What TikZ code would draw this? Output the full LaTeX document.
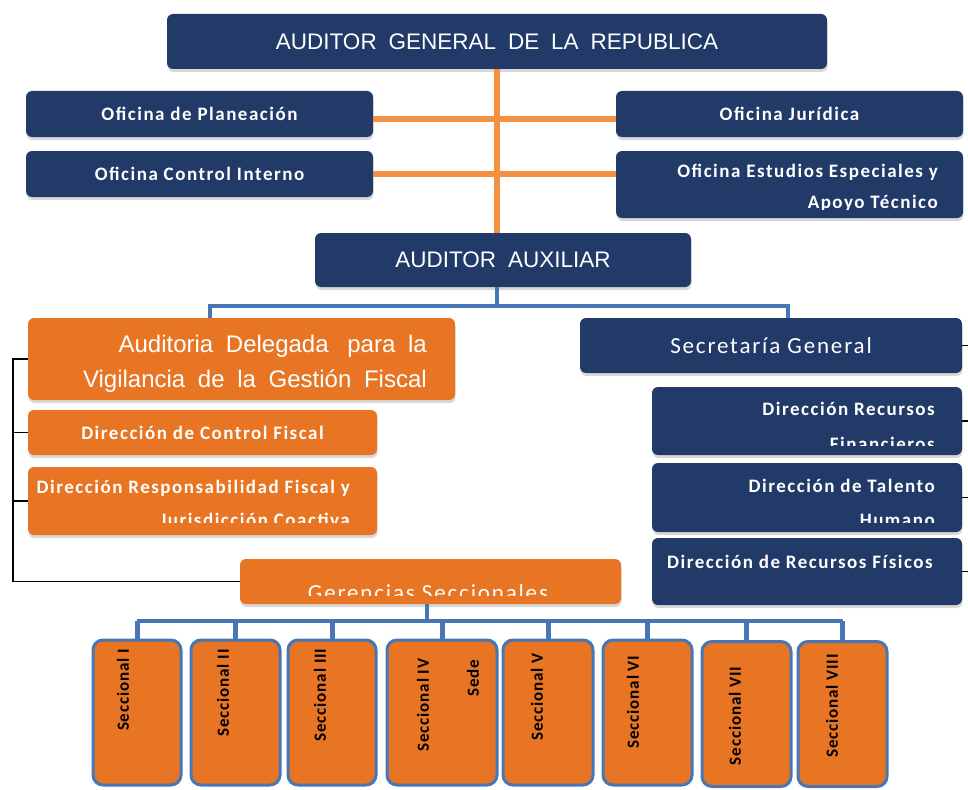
\documentclass[tikz,border=0pt]{standalone}
\usepackage{fontspec}
\setmainfont{Carlito}
\newfontfamily\titlefont{Liberation Sans}
\newfontfamily\adfont[WordSpace=1.9]{Liberation Sans}
\newfontfamily\boxfont[LetterSpace=8]{Carlito}
\newfontfamily\secfont[LetterSpace=5]{Carlito}
\usetikzlibrary{shadows,calc}
\definecolor{navy}{RGB}{33,58,104}
\definecolor{orng}{RGB}{232,117,35}
\definecolor{lorng}{RGB}{242,145,66}
\definecolor{busblue}{RGB}{72,118,180}
\tikzset{
  box/.style={rounded corners=6pt, inner sep=0pt,
    drop shadow={opacity=0.3,shadow xshift=0.5pt,shadow yshift=-3pt}},
  navybox/.style={box, fill=navy, text=white},
  orbox/.style={box, fill=orng, text=white},
  secbox/.style={rounded corners=10pt, fill=orng, draw=busblue, line width=3pt, inner sep=0pt,
    minimum height=145pt},
  titletxt/.style={font=\titlefont\fontsize{22.5}{27}\selectfont},
  smalltxt/.style={font=\boxfont\bfseries\fontsize{19}{22}\selectfont},
  midtxt/.style={font=\boxfont\fontsize{23}{27}\selectfont},
  adtxt/.style={font=\adfont\fontsize{24}{28}\selectfont},
  sectxt/.style={rotate=90, inner sep=0pt, text=black, font=\secfont\bfseries\fontsize{17}{20}\selectfont},
  wtxt/.style={inner sep=0pt, text=white},
  orline/.style={draw=lorng, line width=6pt},
  bus/.style={draw=busblue, line width=4pt},
  drop/.style={draw=busblue, line width=5pt},
  brk/.style={draw=black, line width=1.8pt},
}
\begin{document}
\begin{tikzpicture}[x=1pt,y=-1pt]
\useasboundingbox[fill=white] (0,0) rectangle (968,789);

% ---- helper coordinates
\coordinate (vx) at (497,0);
\coordinate (brx) at (13,0);
\coordinate (jL) at (210,306);
\coordinate (jR) at (788,306);
\coordinate (gbus) at (427,621);
\coordinate (stub) at (968,0);

% ---- boxes
\node[navybox, minimum width=660pt, minimum height=55pt, titletxt] (agr) at (497,41.5) {AUDITOR GENERAL DE LA REPUBLICA};

\node[navybox, minimum width=347pt, minimum height=46pt, smalltxt] (plan) at (199.5,114) {Oficina de Planeación};
\node[navybox, minimum width=347pt, minimum height=46pt, smalltxt] (ci) at (199.5,174) {Oficina Control Interno};
\node[navybox, minimum width=347pt, minimum height=46pt, smalltxt] (jur) at (789.5,114) {Oficina Jurídica};
\node[navybox, minimum width=347pt, minimum height=67pt] (est) at (789.5,184.5) {};

\node[navybox, minimum width=376pt, minimum height=54pt, titletxt] (aa) at (503,260) {AUDITOR AUXILIAR};

\node[orbox, minimum width=427pt, minimum height=82pt] (ad) at (241.5,359) {};
\node[navybox, minimum width=382pt, minimum height=55pt, midtxt] (sg) at (771,345.5) {Secretaría General};

\node[orbox, minimum width=349pt, minimum height=45pt, smalltxt] (dcf) at (202.5,432.5) {Dirección de Control Fiscal};
\node[orbox, minimum width=349pt, minimum height=68pt] (dr) at (202.5,501) {};

\node[navybox, minimum width=310pt, minimum height=68pt] (fin) at (807,421) {};
\node[navybox, minimum width=310pt, minimum height=69pt] (tal) at (807,497.5) {};
\node[navybox, minimum width=310pt, minimum height=67pt] (fis) at (807,571.5) {};

\node[orbox, minimum width=381pt, minimum height=45pt] (ger) at (430.5,581.5) {};

% ---- texts inside boxes
\node[wtxt, smalltxt, anchor=base east] (estA) at (938,177) {Oficina Estudios Especiales y};
\begin{scope}
  \clip (616,185) rectangle (963,209);
  \node[wtxt, smalltxt, anchor=base east] (estB) at (938,208) {Apoyo Técnico};
\end{scope}

\node[wtxt, adtxt, anchor=base east] (adA) at (427,352) {Auditoria Delegada\hspace{6pt} para la};
\node[wtxt, adtxt, anchor=base east] (adB) at (427,387) {Vigilancia de la Gestión Fiscal};

\node[wtxt, smalltxt, anchor=base east] (drA) at (350,493) {Dirección Responsabilidad Fiscal y};
\begin{scope}
  \clip (28,500) rectangle (377,522);
  \node[wtxt, smalltxt, anchor=base east] (drB) at (350,526) {Jurisdicción Coactiva};
\end{scope}

\node[wtxt, smalltxt, anchor=base east] (finA) at (935,415) {Dirección Recursos};
\begin{scope}
  \clip (652,425) rectangle (962,445);
  \node[wtxt, smalltxt, anchor=base east] (finB) at (935,450) {Financieros};
\end{scope}

\node[wtxt, smalltxt, anchor=base east] (talA) at (935,492) {Dirección de Talento};
\begin{scope}
  \clip (652,500) rectangle (962,522);
  \node[wtxt, smalltxt, anchor=base east] (talB) at (935,526) {Humano};
\end{scope}

\node[wtxt, smalltxt, anchor=base east] (fisA) at (933,568) {Dirección de Recursos Físicos};

\begin{scope}
  \clip (240,565) rectangle (621,595);
  \node[wtxt, midtxt, anchor=base] (gerT) at (428,600) {Gerencias Seccionales};
\end{scope}

% ---- seccionales
\node[secbox, minimum width=88pt] (s1) at (137,712.5) {};
\node[secbox, minimum width=89pt] (s2) at (235.5,712.5) {};
\node[secbox, minimum width=88pt] (s3) at (332,712.5) {};
\node[secbox, minimum width=110pt] (s4) at (442,712.5) {};
\node[secbox, minimum width=90pt] (s5) at (548,712.5) {};
\node[secbox, minimum width=89pt] (s6) at (647.5,712.5) {};
\node[secbox, minimum width=89pt] (s7) at (746.5,714) {};
\node[secbox, minimum width=89pt] (s8) at (842.5,714) {};

\node[sectxt] (t1) at (123,690) {Seccional I};
\node[sectxt] (t2) at (223,693) {Seccional II};
\node[sectxt] (t3) at (320,695) {Seccional III};
\node[sectxt] (t4) at (423,705) {Seccional IV};
\node[sectxt] (t4b) at (473,678) {Sede};
\node[sectxt] (t5) at (537,697) {Seccional V};
\node[sectxt] (t6) at (633,702) {Seccional VI};
\node[sectxt] (t7) at (735,716) {Seccional VII};
\node[sectxt] (t8) at (832,706) {Seccional VIII};

% ---- connectors
\draw[orline] (agr.south -| vx) -- (aa.north -| vx);
\draw[orline] ($(plan.east)+(0,5)$) -- ($(jur.west)+(0,5)$);
\draw[orline] (ci.east) -- (ci.east -| est.west);

\draw[bus] (aa.south -| vx) -- (jL -| vx);
\draw[bus] (jL |- ad.north) -- (jL) -- (jR) -- (jR |- sg.north);

\draw[brk] (ad.west) -- (ad.west -| brx) |- (ger.west);
\draw[brk] (dcf.west) -- (dcf.west -| brx);
\draw[brk] (dr.west) -- (dr.west -| brx);

\draw[brk, line width=1.2pt] (sg.east) -- (sg.east -| stub);
\draw[brk, line width=1.2pt] (fin.east) -- (fin.east -| stub);
\draw[brk, line width=1.2pt] (tal.east) -- (tal.east -| stub);
\draw[brk, line width=1.2pt] (fis.east) -- (fis.east -| stub);

\draw[bus] (gbus |- ger.south) -- (gbus);
\draw[bus] (gbus -| s1.north) -- (gbus -| s8.north);
\foreach \i in {1,...,8} {
  \draw[drop] (gbus -| s\i.north) -- (s\i.north);
}
\end{tikzpicture}
\end{document}
